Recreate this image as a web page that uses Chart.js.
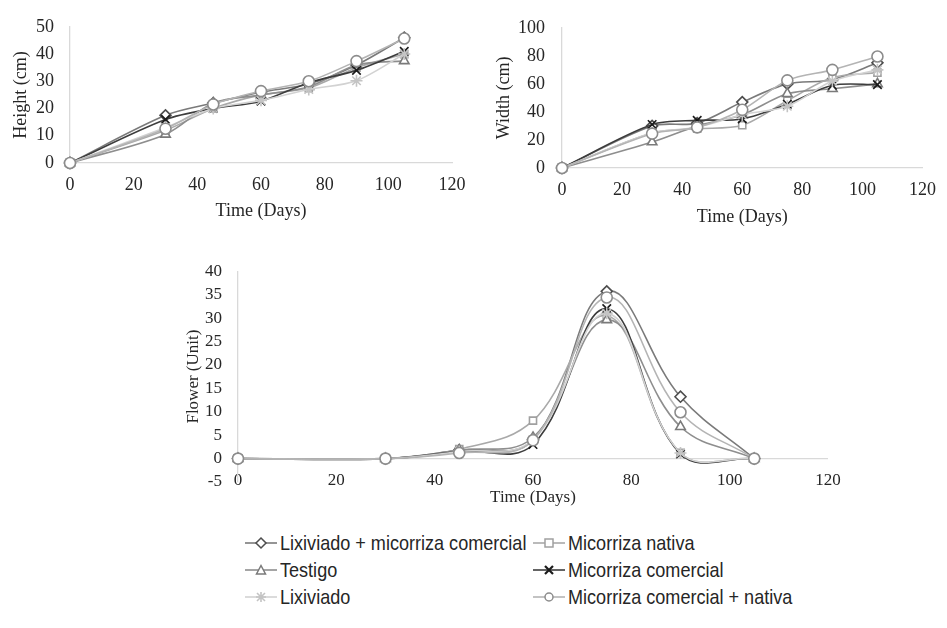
<!DOCTYPE html>
<html><head><meta charset="utf-8">
<script src="https://cdn.jsdelivr.net/npm/chart.js@4.4.1/dist/chart.umd.min.js"></script>
<style>
html,body{margin:0;padding:0;background:#fff;width:947px;height:628px;overflow:hidden;position:relative}
.box{position:absolute}
.item{position:absolute;height:26px;display:flex;align-items:center;white-space:nowrap;font-family:'Liberation Sans',Arial,sans-serif;color:#262626}
.item svg{flex:none}
.item span{font-size:21px;display:inline-block;transform-origin:left center;transform:scaleX(0.86);margin-left:3px}
</style></head><body>
<div class="box" style="left:0;top:0;width:480px;height:228px"><canvas id="c1" width="480" height="228"></canvas></div>
<div class="box" style="left:480px;top:0;width:467px;height:232px"><canvas id="c2" width="467" height="232"></canvas></div>
<div class="box" style="left:150px;top:245px;width:720px;height:275px"><canvas id="c3" width="720" height="275"></canvas></div>
<div id="legend"></div>
<script>
// ---- data ----
const days = [0, 30, 45, 60, 75, 90, 105];
const seriesNames = ['Lixiviado + micorriza comercial', 'Micorriza nativa', 'Testigo', 'Micorriza comercial', 'Lixiviado', 'Micorriza comercial + nativa'];

const heightLixMc     = [0, 17.5, 22, 26, 29, 36, 46];
const heightNativa    = [0, 12, 20, 25, 27.5, 35, 40];
const heightTestigo   = [0, 10.5, 22, 25, 28, 36, 37.5];
const heightComercial = [0, 16, 20, 22.7, 29.5, 34, 41];
const heightLixiviado = [0, 13, 20, 23, 27, 30.2, 40];
const heightComNat    = [0, 12.6, 21.5, 26.4, 30, 37.4, 45.7];

const widthLixMc     = [0, 30, 32, 47, 60, 63, 75];
const widthNativa    = [0, 25, 28, 30.5, 48, 64.5, 68];
const widthTestigo   = [0, 18.5, 30, 38, 53, 56.5, 60];
const widthComercial = [0, 31, 34, 35, 45.5, 59, 59.5];
const widthLixiviado = [0, 25, 29, 38, 44, 62, 70];
const widthComNat    = [0, 24.5, 29, 41.5, 62.5, 70, 79.5];

const flowerLixMc     = [0, 0, 1.8, 4, 35.7, 13.2, 0];
const flowerNativa    = [0, 0, 2, 8.1, 30.5, 1.2, 0];
const flowerTestigo   = [0, 0, 1.8, 4.5, 29.6, 6.8, 0];
const flowerComercial = [0, 0, 1.5, 3, 32, 1, 0];
const flowerLixiviado = [0, 0, 1.5, 4, 31, 1.2, 0];
const flowerComNat    = [0, 0, 1.2, 3.9, 34.4, 9.9, 0];

const xTicks = [0, 20, 40, 60, 80, 100, 120];

// ---- styles ----
const styles = [
  {line: '#7a7a7a', point: '#4d4d4d', shape: 'rectRot', r: 5.5},
  {line: '#a9a9a9', point: '#a0a0a0', shape: 'rect', r: 5},
  {line: '#8e8e8e', point: '#7a7a7a', shape: 'triangle', r: 5.5},
  {line: '#3d3d3d', point: '#1a1a1a', shape: 'crossRot', r: 6},
  {line: '#d2d2d2', point: '#c4c4c4', shape: 'star', r: 6},
  {line: '#b4b4b4', point: '#8c8c8c', shape: 'circle', r: 5.5}
];

function toPts(arr) { return days.map((d, i) => ({x: d, y: arr[i]})); }

function makeDatasets(arrs, tension) {
  return arrs.map((a, i) => ({
    label: seriesNames[i],
    data: toPts(a),
    borderColor: styles[i].line,
    borderWidth: 1.6,
    pointStyle: styles[i].shape,
    pointRadius: styles[i].r,
    pointBorderColor: styles[i].point,
    pointBackgroundColor: '#ffffff',
    pointBorderWidth: 1.6,
    tension: tension,
    clip: false,
    order: 5 - i
  }));
}

function makeChart(id, arrs, cfg) {
  const serif = "'Liberation Serif','Times New Roman',serif";
  const tickFont = {family: serif, size: cfg.fs};
  const xScale = {
    type: 'linear', min: 0, max: 120,
    afterBuildTicks: s => { s.ticks = xTicks.map(v => ({value: v})); },
    grid: {display: false, drawTicks: false},
    border: {display: cfg.xBorder, color: '#d9d9d9', width: 1.3},
    ticks: {font: tickFont, color: '#262626', padding: cfg.xTickPad, maxRotation: 0, autoSkip: false},
    title: {display: true, text: 'Time (Days)', font: tickFont, color: '#262626', padding: {top: cfg.xTitlePadTop || 0, bottom: cfg.xTitlePad}}
  };
  if (cfg.xPos) xScale.position = cfg.xPos;
  else xScale.afterFit = s => { s.height = cfg.xH; };
  return new Chart(document.getElementById(id), {
    type: 'line',
    data: {datasets: makeDatasets(arrs, cfg.tension)},
    options: {
      responsive: false,
      animation: false,
      events: [],
      layout: {padding: cfg.pad},
      plugins: {legend: {display: false}, tooltip: {enabled: false}},
      scales: {
        x: xScale,
        y: {
          min: cfg.yMin, max: cfg.yMax,
          afterBuildTicks: s => { s.ticks = cfg.yTicks.map(v => ({value: v})); },
          afterFit: s => { s.width = cfg.yW; },
          grid: {display: cfg.zeroGrid, drawTicks: false, lineWidth: 1.3,
                 color: c => (c.tick && c.tick.value === 0) ? '#d9d9d9' : 'rgba(0,0,0,0)'},
          border: {display: true, color: '#d9d9d9', width: 1.3},
          ticks: {font: tickFont, color: '#262626', padding: cfg.yTickPad, autoSkip: false},
          title: {display: true, text: cfg.yTitle, font: tickFont, color: '#262626', padding: {top: cfg.yTitlePad, bottom: 0}}
        }
      }
    }
  });
}

makeChart('c1', [heightLixMc, heightNativa, heightTestigo, heightComercial, heightLixiviado, heightComNat], {
  fs: 18, tension: 0.3, pad: {left: 0, top: 24, right: 28, bottom: 0},
  xH: 65, yW: 70, xTickPad: 11, xTitlePad: 6, yTickPad: 16, yTitlePad: 10,
  yMin: 0, yMax: 50, yTicks: [0, 10, 20, 30, 40, 50], yTitle: 'Height (cm)', xBorder: true, zeroGrid: false
});
makeChart('c2', [widthLixMc, widthNativa, widthTestigo, widthComercial, widthLixiviado, widthComNat], {
  fs: 18, tension: 0.3, pad: {left: 0, top: 24, right: 17, bottom: 0},
  xH: 64, yW: 82, xTickPad: 11, xTitlePad: 4, yTickPad: 17, yTitlePad: 13,
  yMin: 0, yMax: 100, yTicks: [0, 20, 40, 60, 80, 100], yTitle: 'Width (cm)', xBorder: true, zeroGrid: false
});
makeChart('c3', [flowerLixMc, flowerNativa, flowerTestigo, flowerComercial, flowerLixiviado, flowerComNat], {
  fs: 17, tension: 0.4, pad: {left: 0, top: 20, right: 42, bottom: 38},
  xPos: {y: -5}, yW: 88, xTickPad: -12, xTitlePad: 5, xTitlePadTop: 9, yTickPad: 16, yTitlePad: 33,
  yMin: -5, yMax: 40, yTicks: [-5, 0, 5, 10, 15, 20, 25, 30, 35, 40], yTitle: 'Flower (Unit)', xBorder: false, zeroGrid: true
});

// ---- legend (HTML) ----
function markerSvg(st) {
  const c = st.point, l = st.line;
  let m = '';
  if (st.shape === 'rectRot') m = `<polygon points="16,2 21,7 16,12 11,7" fill="#fff" stroke="${c}" stroke-width="1.5"/>`;
  else if (st.shape === 'rect') m = `<rect x="12" y="3" width="8" height="8" fill="#fff" stroke="${c}" stroke-width="1.5"/>`;
  else if (st.shape === 'triangle') m = `<polygon points="16,2.5 20.5,11 11.5,11" fill="#fff" stroke="${c}" stroke-width="1.5"/>`;
  else if (st.shape === 'crossRot') m = `<path d="M12,3 L20,11 M20,3 L12,11" stroke="${c}" stroke-width="2.2"/>`;
  else if (st.shape === 'star') m = `<path d="M12,3 L20,11 M20,3 L12,11 M16,2 L16,12 M11,7 L21,7" stroke="${c}" stroke-width="1.6"/>`;
  else m = `<circle cx="16" cy="7" r="4" fill="#fff" stroke="${c}" stroke-width="1.5"/>`;
  return `<svg width="32" height="14" viewBox="0 0 32 14"><line x1="0" y1="7" x2="32" y2="7" stroke="${l}" stroke-width="1.6"/>${m}</svg>`;
}
const legendCols = [245, 533];
const legendRows = [530, 557, 584];
const leg = document.getElementById('legend');
seriesNames.forEach((name, i) => {
  const d = document.createElement('div');
  d.className = 'item';
  d.style.left = legendCols[i % 2] + 'px';
  d.style.top = legendRows[Math.floor(i / 2)] + 'px';
  d.innerHTML = markerSvg(styles[i]) + '<span>' + name + '</span>';
  leg.appendChild(d);
});
</script>
</body></html>
